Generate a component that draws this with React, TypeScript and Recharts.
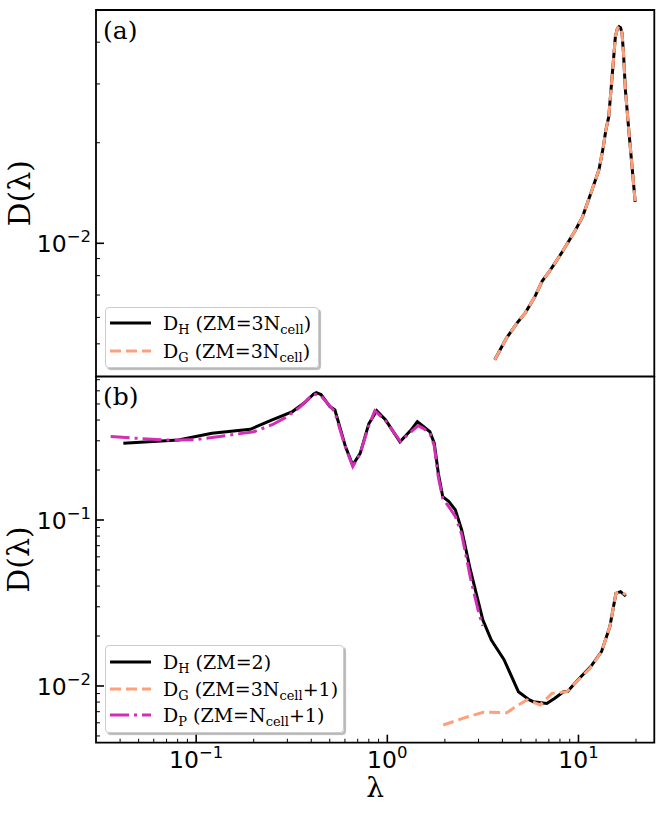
import React from 'react';
import { LineChart, Line, XAxis, YAxis, ReferenceArea, Legend } from 'recharts';

// shared log x axis (lambda)
const X_DOMAIN: [number, number] = [0.02992, 24.93];
const A_DOMAIN: [number, number] = [0.003992, 0.04994];
const B_DOMAIN: [number, number] = [0.004553, 0.7319];

const xTicks = [
  0.04, 0.05, 0.06, 0.07, 0.08, 0.09, 0.1,
  0.2, 0.3, 0.4, 0.5, 0.6, 0.7, 0.8, 0.9, 1,
  2, 3, 4, 5, 6, 7, 8, 9, 10, 20,
];
const aTicks = [0.005, 0.006, 0.007, 0.008, 0.009, 0.01, 0.02, 0.03, 0.04];
const bTicks = [
  0.005, 0.006, 0.007, 0.008, 0.009, 0.01,
  0.02, 0.03, 0.04, 0.05, 0.06, 0.07, 0.08, 0.09, 0.1,
  0.2, 0.3, 0.4, 0.5, 0.6, 0.7,
];

// panel (a): D_H and D_G with ZM = 3 N_cell (the two curves coincide)
const aX = [3.65, 4.2, 4.8, 5.26, 5.9, 6.46, 7.0, 7.52, 8.2, 8.76, 9.6, 10.5, 11.6, 12.8, 13.5, 13.9, 14.4, 15.0, 15.6, 16.0, 16.3, 16.6, 16.9, 17.2, 17.6, 18.3, 19.8];
const aY = [0.00448, 0.0052, 0.0058, 0.00618, 0.0069, 0.00771, 0.0082, 0.00871, 0.0094, 0.01, 0.0109, 0.012, 0.0141, 0.0166, 0.0195, 0.0218, 0.0239, 0.0316, 0.0416, 0.044, 0.0445, 0.0442, 0.0426, 0.0371, 0.0288, 0.0221, 0.0133];

// panel (b)
const bHX = [0.0416, 0.0565, 0.0807, 0.121, 0.192, 0.248, 0.319, 0.37, 0.412, 0.425, 0.45, 0.501, 0.532, 0.604, 0.659, 0.721, 0.8, 0.88, 0.98, 1.165, 1.33, 1.436, 1.55, 1.67, 1.76, 1.85, 1.95, 2.1, 2.27, 2.45, 2.72, 3.16, 3.5, 4.08, 4.85, 5.54, 5.81, 6.83, 7.52, 8.35, 8.76, 9.95, 11.6, 13.2, 14.6, 15.7, 16.6, 17.7];
const bHY = [0.29, 0.296, 0.303, 0.333, 0.352, 0.4, 0.45, 0.51, 0.575, 0.585, 0.57, 0.482, 0.46, 0.277, 0.214, 0.252, 0.38, 0.455, 0.4, 0.296, 0.348, 0.391, 0.365, 0.34, 0.29, 0.19, 0.138, 0.129, 0.115, 0.0871, 0.05, 0.025, 0.0189, 0.0144, 0.00924, 0.00824, 0.00804, 0.00785, 0.00844, 0.00924, 0.00925, 0.0109, 0.0131, 0.0161, 0.0228, 0.0361, 0.037, 0.0348];

const bGX = [1.96, 2.5, 3.18, 4.22, 4.6, 5.37, 6.31, 7.26, 8.69, 10.0, 11.5, 13.2, 14.6, 15.7, 16.6, 17.7];
const bGY = [0.00582, 0.0064, 0.00695, 0.0069, 0.0074, 0.00824, 0.00769, 0.00903, 0.00924, 0.0109, 0.0128, 0.0161, 0.0228, 0.0361, 0.037, 0.0355];

const bPX = [0.0357, 0.05, 0.07, 0.1, 0.15, 0.2, 0.25, 0.3, 0.35, 0.41, 0.45, 0.53, 0.6, 0.66, 0.72, 0.8, 0.86, 0.98, 1.17, 1.33, 1.45, 1.55, 1.67, 1.76, 1.85, 1.95, 2.1, 2.27, 2.45, 2.72, 3.0, 3.16];
const bPY = [0.318, 0.31, 0.303, 0.305, 0.325, 0.34, 0.375, 0.42, 0.48, 0.575, 0.56, 0.45, 0.28, 0.21, 0.25, 0.37, 0.455, 0.395, 0.298, 0.34, 0.37, 0.355, 0.335, 0.28, 0.18, 0.135, 0.12, 0.105, 0.082, 0.045, 0.028, 0.023];

const BLACK = '#000000';
const ORANGE = '#FFA07A';
const MAGENTA = '#D42FB4';
const DASHED = '11 5';
const DASHDOT = '19 5 3 5';

const SERIF = '"DejaVu Serif", serif';
const SANS = '"DejaVu Sans", sans-serif';

const pts = (xs: number[], ys: number[]) => xs.map((x, i) => ({ x, y: ys[i] }));

const isMajor = (v: number) => Math.abs(Math.log10(v) - Math.round(Math.log10(v))) < 1e-6;
const expOf = (v: number) => {
  const e = Math.round(Math.log10(v));
  return e < 0 ? `\u2212${-e}` : `${e}`;
};

function XTick(props: any) {
  const { x, y, payload, showLabel } = props;
  const major = isMajor(payload.value);
  return (
    <g>
      <line x1={x} x2={x} y1={y} y2={y - (major ? 8 : 4)} stroke="#000" strokeWidth={major ? 1.6 : 1} />
      {major && showLabel && (
        <text x={x} y={y + 25} textAnchor="middle" fontFamily={SANS} fontSize={23.5} fill="#000">
          10
          <tspan dy={-10} fontSize={16.5}>{expOf(payload.value)}</tspan>
        </text>
      )}
    </g>
  );
}

function YTick(props: any) {
  const { x, y, payload } = props;
  const major = isMajor(payload.value);
  return (
    <g>
      <line x1={x} x2={x + (major ? 8 : 4)} y1={y} y2={y} stroke="#000" strokeWidth={major ? 1.6 : 1} />
      {major && (
        <text x={x - 5} y={y + 9} textAnchor="end" fontFamily={SANS} fontSize={23.5} fill="#000">
          10
          <tspan dy={-10} fontSize={16.5}>{expOf(payload.value)}</tspan>
        </text>
      )}
    </g>
  );
}

const yLabel = (props: any) => {
  const vb = props.viewBox;
  const cx = vb.x + 19;
  const cy = vb.y + vb.height / 2;
  return (
    <text x={cx} y={cy} transform={`rotate(-90 ${cx} ${cy})`} textAnchor="middle" dominantBaseline="central" fontFamily={SERIF} fontSize={30} fill="#000">
      D(λ)
    </text>
  );
};

const xLabel = (props: any) => {
  const vb = props.viewBox;
  return (
    <text x={vb.x + vb.width / 2} y={vb.y + 54} textAnchor="middle" fontFamily={SERIF} fontSize={28} fill="#000">
      λ
    </text>
  );
};

type Entry = { color: string; dash?: string; main: string; sub: string; rest: string; sub2?: string; tail?: string };

const legendA: Entry[] = [
  { color: BLACK, main: 'D', sub: 'H', rest: ' (ZM=3N', sub2: 'cell', tail: ')' },
  { color: ORANGE, dash: DASHED, main: 'D', sub: 'G', rest: ' (ZM=3N', sub2: 'cell', tail: ')' },
];
const legendB: Entry[] = [
  { color: BLACK, main: 'D', sub: 'H', rest: ' (ZM=2)' },
  { color: ORANGE, dash: DASHED, main: 'D', sub: 'G', rest: ' (ZM=3N', sub2: 'cell', tail: '+1)' },
  { color: MAGENTA, dash: DASHDOT, main: 'D', sub: 'P', rest: ' (ZM=N', sub2: 'cell', tail: '+1)' },
];

function LegendBox({ entries, width, height, rows }: { entries: Entry[]; width: number; height: number; rows: number[] }) {
  return (
    <div
      style={{
        width,
        height,
        boxSizing: 'border-box',
        border: '1px solid #cccccc',
        borderRadius: 4,
        background: 'rgba(255,255,255,0.85)',
        boxShadow: '2px 2px 1px rgba(0,0,0,0.28)',
      }}
    >
      <svg width={width - 2} height={height - 2} style={{ display: 'block' }}>
        {entries.map((e, i) => (
          <g key={i}>
            <line x1={4} x2={45} y1={rows[i]} y2={rows[i]} stroke={e.color} strokeWidth={3} strokeDasharray={e.dash} />
            <text x={57} y={rows[i] + 7} fontFamily={SERIF} fontSize={19} fill="#000">
              {e.main}
              <tspan dy={4} fontSize={13}>{e.sub}</tspan>
              <tspan dy={-4} fontSize={19}>{e.rest}</tspan>
              {e.sub2 && <tspan dy={4} fontSize={13}>{e.sub2}</tspan>}
              {e.tail && <tspan dy={-4} fontSize={19}>{e.tail}</tspan>}
            </text>
          </g>
        ))}
      </svg>
    </div>
  );
}

export default function App() {
  return (
    <div style={{ position: 'absolute', left: 0, top: 0, width: 664, height: 813, background: '#fff' }}>
      {/* panel (a) */}
      <div style={{ position: 'absolute', left: 0, top: 0 }}>
        <LineChart width={664} height={377} margin={{ top: 10, right: 9.7, bottom: 0.5, left: 0 }}>
          <XAxis
            type="number"
            dataKey="x"
            scale="log"
            domain={X_DOMAIN}
            allowDataOverflow
            ticks={xTicks}
            interval={0}
            tick={(p: any) => <XTick {...p} showLabel={false} />}
            tickLine={false}
            axisLine={false}
            tickSize={0}
            tickMargin={0}
            height={0}
          />
          <YAxis
            type="number"
            scale="log"
            domain={A_DOMAIN}
            allowDataOverflow
            ticks={aTicks}
            interval={0}
            tick={(p: any) => <YTick {...p} />}
            tickLine={false}
            axisLine={false}
            tickSize={0}
            tickMargin={0}
            width={96}
            label={yLabel}
          />
          <Line data={pts(aX, aY)} dataKey="y" type="linear" stroke={BLACK} strokeWidth={3} dot={false} isAnimationActive={false} />
          <Line data={pts(aX, aY)} dataKey="y" type="linear" stroke={ORANGE} strokeWidth={3} strokeDasharray={DASHED} dot={false} isAnimationActive={false} />
          <ReferenceArea x1={X_DOMAIN[0]} x2={X_DOMAIN[1]} y1={A_DOMAIN[0]} y2={A_DOMAIN[1]} fill="none" stroke="#000" strokeWidth={1.8} ifOverflow="visible" />
          <Legend
            layout="horizontal"
            verticalAlign="middle"
            align="center"
            wrapperStyle={{ position: 'absolute', left: 105, top: 307, width: 214, height: 61 }}
            content={() => <LegendBox entries={legendA} width={214} height={61} rows={[15, 43]} />}
          />
          <text x={103} y={38.5} fontFamily={SERIF} fontSize={25} fill="#000">(a)</text>
        </LineChart>
      </div>

      {/* panel (b) */}
      <div style={{ position: 'absolute', left: 0, top: 376 }}>
        <LineChart width={664} height={437} margin={{ top: 0.5, right: 9.7, bottom: 0, left: 0 }}>
          <XAxis
            type="number"
            dataKey="x"
            scale="log"
            domain={X_DOMAIN}
            allowDataOverflow
            ticks={xTicks}
            interval={0}
            tick={(p: any) => <XTick {...p} showLabel />}
            tickLine={false}
            axisLine={false}
            tickSize={0}
            tickMargin={0}
            height={70.3}
            label={xLabel}
          />
          <YAxis
            type="number"
            scale="log"
            domain={B_DOMAIN}
            allowDataOverflow
            ticks={bTicks}
            interval={0}
            tick={(p: any) => <YTick {...p} />}
            tickLine={false}
            axisLine={false}
            tickSize={0}
            tickMargin={0}
            width={96}
            label={yLabel}
          />
          <Line data={pts(bHX, bHY)} dataKey="y" type="linear" stroke={BLACK} strokeWidth={3} dot={false} isAnimationActive={false} />
          <Line data={pts(bGX, bGY)} dataKey="y" type="linear" stroke={ORANGE} strokeWidth={3} strokeDasharray={DASHED} dot={false} isAnimationActive={false} />
          <Line data={pts(bPX, bPY)} dataKey="y" type="linear" stroke={MAGENTA} strokeWidth={3} strokeDasharray={DASHDOT} dot={false} isAnimationActive={false} />
          <ReferenceArea x1={X_DOMAIN[0]} x2={X_DOMAIN[1]} y1={B_DOMAIN[0]} y2={B_DOMAIN[1]} fill="none" stroke="#000" strokeWidth={1.8} ifOverflow="visible" />
          <Legend
            layout="horizontal"
            verticalAlign="middle"
            align="center"
            wrapperStyle={{ position: 'absolute', left: 105, top: 269, width: 239, height: 88 }}
            content={() => <LegendBox entries={legendB} width={239} height={88} rows={[16, 43, 69]} />}
          />
          <text x={103} y={29} fontFamily={SERIF} fontSize={25} fill="#000">(b)</text>
        </LineChart>
      </div>
    </div>
  );
}
